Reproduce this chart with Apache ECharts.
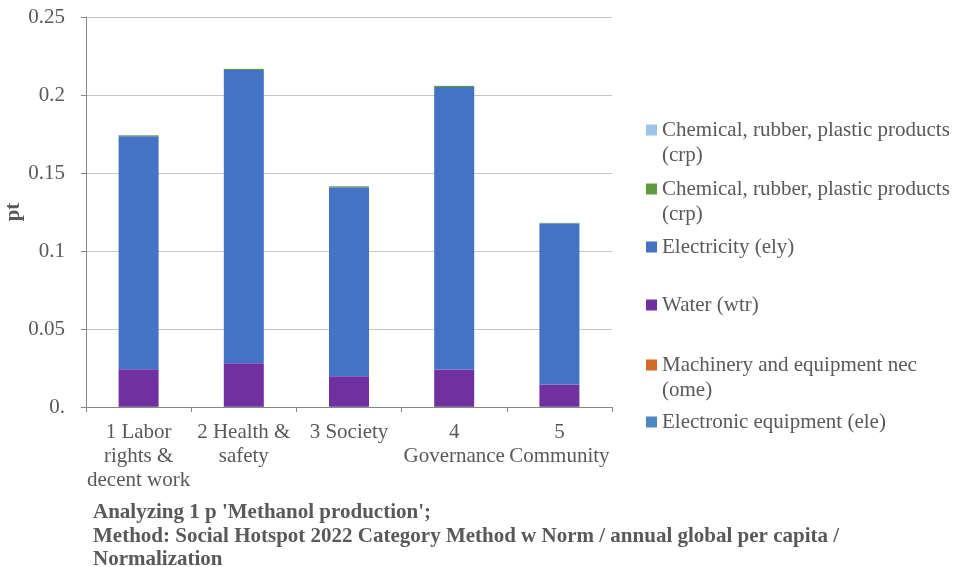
<!DOCTYPE html>
<html>
<head>
<meta charset="utf-8">
<script src="https://cdn.jsdelivr.net/npm/echarts@6/dist/echarts.min.js"></script>
<style>
html,body{margin:0;padding:0;background:#fff;}
#chart{width:954px;height:567px;}
</style>
</head>
<body>
<div id="chart"></div>
<script>
const categories = ['1 Labor\nrights &\ndecent work', '2 Health &\nsafety', '3 Society', '4\nGovernance', '5\nCommunity'];
const yTickLabels = {0: '0.', 0.05: '0.05', 0.1: '0.1', 0.15: '0.15', 0.2: '0.2', 0.25: '0.25'};

// stack order bottom -> top
const eleValues = [0.0001, 0.0001, 0.0001, 0.0001, 0.0001];
const omeValues = [0.0001, 0.0001, 0.0001, 0.0001, 0.0001];
const wtrValues = [0.0240, 0.0278, 0.0195, 0.0238, 0.0143];
const elyValues = [0.1494, 0.1881, 0.1212, 0.1812, 0.1031];
const crpGreenValues = [0.0006, 0.0006, 0.0006, 0.0006, 0.0004];
const crpLightValues = [0.0001, 0.0001, 0.0001, 0.0001, 0.0001];

const seriesKeys = ['ele', 'ome', 'wtr', 'ely', 'crpGreen', 'crpLight'];
const seriesLabels = {
  ele: 'Electronic equipment (ele)',
  ome: 'Machinery and equipment nec\n(ome)',
  wtr: 'Water (wtr)',
  ely: 'Electricity (ely)',
  crpGreen: 'Chemical, rubber, plastic products\n(crp)',
  crpLight: 'Chemical, rubber, plastic products\n(crp)'
};
const seriesValues = {
  ele: eleValues, ome: omeValues, wtr: wtrValues, ely: elyValues,
  crpGreen: crpGreenValues, crpLight: crpLightValues
};
const seriesColors = {
  ele: '#4E88C0', ome: '#D5692A', wtr: '#7030A0', ely: '#4472C4',
  crpGreen: '#5F9B3E', crpLight: '#9DC3E6'
};
const footnote = "Analyzing 1 p 'Methanol production';\nMethod: Social Hotspot 2022 Category Method w Norm / annual global per capita /\nNormalization";

const FONT = '"Liberation Serif", "Times New Roman", serif';
const TXT = '#595959';
const FS = 21;

// legend layout (top to bottom)
const legendOrder = ['crpLight', 'crpGreen', 'ely', 'wtr', 'ome', 'ele'];
const legendCenters = [130, 189, 247, 305, 365, 422];

const legends = legendOrder.map((k, i) => {
  const twoLine = seriesLabels[k].indexOf('\n') >= 0;
  const h = twoLine ? 75 : 25;
  return {
    orient: 'vertical',
    left: 646,
    top: legendCenters[i] - h / 2,
    padding: 0,
    icon: 'rect',
    itemWidth: 11,
    itemHeight: 11,
    selectedMode: false,
    data: [k],
    formatter: (n) => twoLine ? '\n' + seriesLabels[n] : seriesLabels[n],
    textStyle: {fontFamily: FONT, fontSize: FS, color: TXT, lineHeight: 25}
  };
});

const chart = echarts.init(document.getElementById('chart'), null, {renderer: 'canvas'});
chart.setOption({
  backgroundColor: '#fff',
  animation: false,
  title: {
    text: footnote,
    left: 93,
    top: 501,
    padding: 0,
    textStyle: {fontFamily: FONT, fontSize: FS, fontWeight: 'bold', color: TXT, lineHeight: 23.5}
  },
  legend: legends,
  grid: {left: 86, top: 17, right: 342, bottom: 160, containLabel: false, outerBoundsMode: 'none'},
  xAxis: {
    type: 'category',
    data: categories,
    axisLine: {lineStyle: {color: '#868686', width: 1}},
    axisTick: {show: true, length: 5, lineStyle: {color: '#868686'}},
    axisLabel: {
      fontFamily: FONT, fontSize: FS, color: TXT, lineHeight: 24, margin: 13,
      interval: 0, align: 'center'
    }
  },
  yAxis: {
    type: 'value',
    min: 0, max: 0.25, interval: 0.05,
    name: 'pt',
    nameLocation: 'middle',
    nameGap: 62,
    nameMoveOverlap: false,
    nameTextStyle: {fontFamily: FONT, fontSize: FS, fontWeight: 'bold', color: TXT},
    axisLine: {show: true, lineStyle: {color: '#868686', width: 1}},
    axisTick: {show: true, length: 5, lineStyle: {color: '#868686'}},
    axisLabel: {
      fontFamily: FONT, fontSize: FS, color: TXT, margin: 21,
      formatter: (v) => {
        const key = Math.round(v * 100) / 100;
        return yTickLabels[key] !== undefined ? yTickLabels[key] : String(v);
      }
    },
    splitLine: {show: true, lineStyle: {color: '#C6C6C6', width: 1}}
  },
  series: seriesKeys.map(k => ({
    name: k,
    type: 'bar',
    stack: 'total',
    barWidth: 40,
    data: seriesValues[k],
    itemStyle: {color: seriesColors[k]}
  }))
});
</script>
</body>
</html>
